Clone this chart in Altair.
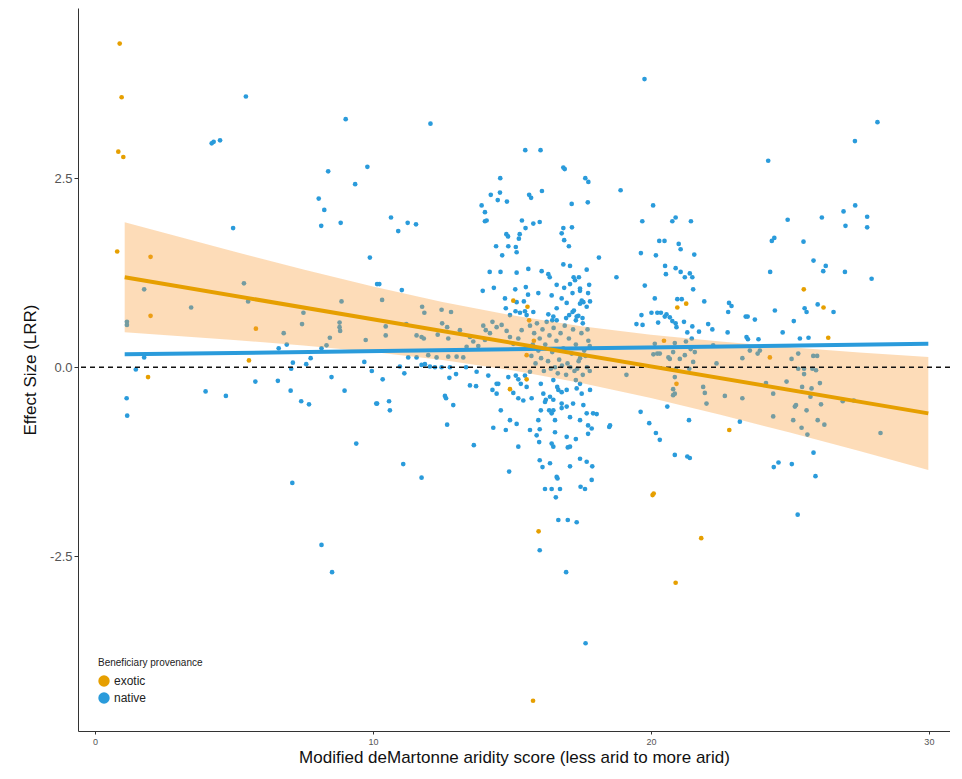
import altair as alt
import pandas as pd

# ---------------- data ----------------
native_pts = [
    (5.43,3.58),(4.2,2.96),(4.27,2.98),(4.5,3.0),(9.02,3.28),(9.8,2.65),(8.39,2.59),(9.36,2.42),(8.05,2.23),(8.25,2.08),(8.14,1.87),(8.84,1.91),(4.97,1.84),
    (19.77,3.81),(12.07,3.22),(15.48,2.87),(16.03,2.87),(16.85,2.64),(16.9,2.62),(17.64,2.50),(17.75,2.45),(14.58,2.5),(18.91,2.34),(14.24,2.28),(14.57,2.31),(14.49,2.21),(14.82,2.19),(15.62,2.28),(15.69,2.24),(16.08,2.33),(13.91,2.14),(14.03,2.05),(17.15,2.16),(17.73,2.18),(20.08,2.14),(10.65,1.98),(10.91,1.80),(11.25,1.91),(11.55,1.89),(14.03,1.93),(14.09,1.94),(15.36,1.94),(15.49,1.84),(15.77,1.90),(16.0,1.92),(19.69,1.93),(16.85,1.84),(17.16,1.85),(16.79,1.77),(16.88,1.68),(17.05,1.60),(14.8,1.76),(14.86,1.73),(15.28,1.76),(15.25,1.70),(14.43,1.60),(14.87,1.60),(15.14,1.59),(20.3,1.67),(20.49,1.67),
    (28.15,3.24),(27.34,2.99),(24.22,2.73),(27.35,2.14),(26.93,2.06),(27.78,1.99),(27.0,1.87),(27.78,1.85),(26.15,1.98),(24.92,1.95),(24.44,1.71),(24.35,1.67),(25.49,1.66),(20.89,1.98),(20.77,1.93),(21.44,1.93),(21.0,1.63),(21.07,1.56),
    (1.77,1.03),(1.15,0.60),(1.15,0.56),(5.36,1.11),(5.51,0.87),(3.46,0.79),(6.79,0.45),(6.9,0.30),(7.45,0.57),(7.5,0.72),(8.87,0.87),(8.8,0.59),(8.8,0.53),(8.82,0.48),(8.45,0.39),(8.33,0.29),(8.15,0.25),(9.74,0.36),(6.61,0.25),(9.89,1.45),(1.77,0.13),(1.47,-0.03),(1.14,-0.41),(1.16,-0.64),(3.98,-0.32),(4.71,-0.38),(5.77,-0.19),(6.58,-0.18),(7.12,0.06),(7.06,-0.02),(7.04,-0.31),(7.42,-0.45),(7.70,-0.49),(7.6,0.04),(7.76,0.12),(8.51,-0.13),(8.98,-0.31),(9.69,0.07),(9.96,-0.05),(10.12,-0.48),(9.4,-1.01),(7.1,-1.53),(10.15,1.10),
    (8.15,-2.35),(8.53,-2.71),
    (15.17,1.52),(14.65,1.48),(18.13,1.45),(19.64,1.51),(20.18,1.48),(16.85,1.36),(17.09,1.34),(14.2,1.26),(14.59,1.26),(15.17,1.25),(16.07,1.27),(16.31,1.23),(16.36,1.19),(17.22,1.19),(17.41,1.19),(17.69,1.29),(18.76,1.19),(20.51,1.34),(20.54,1.23),(10.23,1.10),(11.04,1.02),(13.95,1.01),(14.35,1.05),(15.12,1.03),(15.5,1.06),(15.58,0.96),(15.43,0.87),(15.95,0.98),(16.61,1.09),(16.43,0.95),(16.88,1.05),(17.09,1.10),(17.18,0.98),(17.45,1.04),(17.78,1.09),(17.74,0.98),(19.78,1.08),(20.14,0.91),(14.75,0.91),(15.17,0.86),(15.13,0.74),(15.47,0.74),(15.53,0.69),(16.31,0.70),(16.49,0.67),(16.61,0.62),(17.06,0.69),(17.23,0.75),(17.39,0.68),(17.54,0.65),(19.66,0.69),(19.7,0.56),(20.23,0.72),(20.5,0.67),(17.45,0.84),(17.57,0.86),(17.81,0.87),(16.79,0.91),
    (15.59,1.30),(17.27,1.15),(17.45,1.01),(17.51,0.88),(15.29,0.72),(14.93,0.69),(14.78,0.78),(15.77,0.73),(16.61,0.78),(16.97,0.85),(17.18,0.73),(17.33,0.67),(17.69,0.80),(19.48,0.57),(20.02,0.72),(20.36,0.72),(20.26,0.59),
    (10.33,0.89),(10.46,0.54),(10.46,0.42),(11.77,0.80),(11.85,0.72),(11.75,0.40),(11.83,0.38),(12.47,0.76),(12.81,0.73),(12.49,0.58),(12.67,0.53),(12.71,0.38),(12.33,0.43),(13.13,0.49),(11.2,0.57),(11.57,0.42),(11.27,0.13),(11.57,0.13),(11.99,0.16),(12.29,0.13),(12.71,0.14),(13.01,0.14),(13.25,0.13),(11.75,0.03),(11.87,0.04),(12.05,0.01),(12.23,0.0),(12.47,0.0),(12.77,0.0),(13.37,0.27),(13.49,0.40),(13.61,0.34),(13.79,0.28),(13.97,0.55),(14.06,0.49),(14.03,0.36),(14.21,0.45),(14.3,0.60),(14.45,0.53),(14.63,0.56),(14.81,0.48),(14.93,0.40),(15.05,0.31),(15.23,0.38),(15.35,0.49),
    (15.65,0.55),(15.8,0.45),(15.9,0.58),(16.0,0.38),(16.1,0.5),(16.2,0.3),(16.25,0.6),(16.35,0.42),(16.45,0.2),(16.5,0.52),(16.6,0.35),(16.7,0.1),(16.75,0.45),(16.85,0.25),(16.9,0.55),(17.0,0.05),(17.05,0.38),(17.15,0.18),(17.2,0.5),(17.3,0.3),(17.35,-0.02),(17.45,0.12),(17.5,0.45),(17.6,0.22),(17.7,0.0),(17.75,0.35),(15.7,0.15),(15.85,0.05),(16.05,0.12),(16.15,-0.05),(16.3,0.08),(16.4,-0.02),(16.55,0.0),(16.65,-0.08),(16.8,0.02),(16.95,-0.1),(17.1,0.0),(17.25,-0.05),(17.4,0.08),(17.55,-0.1),(17.65,0.15),(17.8,-0.05),(15.75,0.3),(15.95,0.22),(16.45,0.62),(16.95,0.65),(17.3,0.62),(17.55,0.58),(17.72,0.5),(17.8,0.28),
    (20.14,0.31),(20.23,0.18),(20.09,0.17),(20.63,0.13),(19.12,-0.10),(19.94,-0.74),(20.18,-0.87),(19.63,-0.59),
    (10.35,-0.16),(10.15,-0.48),(10.58,-0.45),(10.61,-0.57),(10.97,0.01),(11.13,-0.08),(12.75,-0.14),(12.99,-0.09),(13.35,0.0),(13.49,-0.24),(13.71,-0.25),(13.73,-0.06),(12.59,-0.38),(12.63,-0.41),(12.89,-0.50),(12.67,-0.76),(13.63,-1.03),(11.09,-1.28),(11.75,-1.46),(14.15,-0.11),(14.51,-0.22),(14.87,-0.13),(15.14,-0.11),(15.23,-0.16),(15.47,-0.11),(15.65,-0.06),(14.3,-0.30),(14.45,-0.35),(15.05,-0.34),(15.23,-0.41),(15.41,-0.44),(15.71,-0.41),(15.53,-0.26),(15.32,-0.22),(14.6,-0.57),(14.93,-0.70),(15.17,-0.75),(14.78,-0.83),(14.33,-0.80),(15.65,-0.83),(15.95,-0.70),(16.0,-0.82),(16.13,-0.35),(16.19,-0.46),(16.37,-0.39),(16.49,-0.57),(16.55,-0.70),(16.43,-0.61),(16.79,-0.48),(16.97,-0.52),(17.2,-0.48),(17.09,-0.66),(17.57,-0.50),(17.69,-0.61),(16.55,-0.86),(15.89,-0.90),(16.43,-1.01),(16.97,-0.92),(17.09,-1.05),(17.45,-0.70),(17.74,-0.77),(17.92,-0.61),(18.05,-0.62),(18.53,-0.77),(17.74,-0.88),(17.87,-0.81),(14.9,-1.38),(16.0,-1.23),(16.1,-1.32),(16.37,-1.27),(16.61,-1.45),(17.09,-1.31),(17.45,-1.21),(17.69,-1.25),(17.87,-1.49),(17.47,-1.58),(16.19,-1.61),(16.43,-1.61),(16.73,-1.61),
    (16.64,-1.47),(16.58,-1.72),(17.89,-1.31),(15.98,-0.99),(15.23,-1.05),(16.49,-1.05),(17.01,-1.06),(17.3,-0.95),(18.5,-0.79),(14.45,-0.22),(16.04,-0.22),(16.49,-0.17),(16.63,-0.26),(16.67,-0.30),(16.79,-0.33),(16.97,-0.30),(16.49,-0.43),(16.22,-0.43),(17.3,-0.17),(17.45,-0.22),(17.51,-0.35),(17.81,-0.30),(17.33,-0.28),(16.04,-0.57),(16.34,-0.57),(16.79,-0.54),
    (16.67,-2.02),(17.01,-2.02),(17.33,-2.05),(16.0,-2.42),(16.95,-2.71),(17.65,-3.65),(17.63,-1.61),
    (25.28,-1.95),
    (21.56,1.49),(20.89,1.31),(21.07,1.26),(21.22,1.19),(21.4,1.24),(21.49,1.19),(21.52,1.03),(25.85,1.41),(26.29,1.34),(26.2,1.27),(26.98,1.26),(27.94,1.17),(24.29,1.26),
    (20.95,0.90),(21.11,0.90),(21.92,0.87),(22.81,0.85),(22.9,0.81),(22.78,0.73),(20.56,0.70),(20.68,0.66),(20.77,0.61),(20.89,0.58),(20.92,0.53),(21.19,0.60),(21.31,0.46),(21.49,0.54),(21.47,0.38),(21.73,0.47),(22.06,0.57),(22.21,0.50),(22.76,0.46),
    (23.41,0.67),(23.48,0.67),(23.74,0.63),(24.46,0.75),(24.74,0.46),(25.14,0.61),(25.36,0.38),(25.53,0.78),(25.6,0.73),(26.0,0.83),(26.57,0.73),(25.67,0.39),(23.44,0.40),(23.49,0.37),(23.87,0.37),
    (20.86,0.32),(20.8,0.20),(21.26,0.34),(21.43,0.24),(21.58,0.20),(21.04,0.11),(20.68,0.11),(20.32,0.18),(21.22,0.16),(21.52,0.07),(22.24,0.29),
    (20.9,-0.02),(20.86,-0.13),(20.8,-0.29),(20.86,-0.35),(20.8,-0.37),(21.38,-0.02),(21.88,-0.26),(21.94,-0.34),(22.0,-0.48),(22.36,0.05),(22.66,-0.38),(23.29,-0.41),(23.29,0.12),(23.56,0.22),(23.84,0.18),(23.92,0.22),
    (24.14,-0.21),(24.4,-0.35),(24.4,-0.65),(24.88,-0.19),(25.06,0.11),(25.3,0.18),(25.18,-0.52),(25.22,-0.50),(25.12,-0.70),(25.3,-0.02),(25.51,-0.02),(25.51,-0.09),(25.44,-0.26),(25.6,-0.57),(25.78,-0.28),(25.81,-0.02),(25.84,0.15),(25.98,0.15),(25.94,-0.04),(26.08,-0.21),(26.12,-0.49),(26.0,-0.70),(26.24,-0.76),(25.42,-0.80),(25.63,-0.89),(26.9,-0.45),(27.3,-0.44),(28.26,-0.87),(25.74,-0.39),
    (20.32,-0.96),(20.59,-0.52),(21.37,-0.70),(20.86,-1.16),(21.31,-1.18),(21.4,-1.20),(23.2,-0.72),(24.42,-1.32),(24.59,-1.26),(25.07,-1.28),(25.85,-1.13),(25.92,-1.44),
]
native_x = [p[0] for p in native_pts]
native_y = [p[1] for p in native_pts]

exotic_x = [0.89, 0.96, 0.84, 1.02, 0.8, 2.0, 2.0, 5.79, 5.54, 1.91, 15.56, 15.62, 15.79, 15.53, 15.53, 14.93,
            15.05, 20.47, 15.96, 15.76, 20.06, 20.1, 21.81, 20.89, 20.95, 21.27, 25.5, 26.21, 26.38, 24.28, 20.92, 22.82]
exotic_y = [4.28, 3.57, 2.85, 2.78, 1.53, 1.46, 0.68, 0.51, 0.09, -0.13, 0.80, 0.62, 0.35, 0.16, -0.16, -0.29,
            0.88, 0.35, -2.17, -4.41, -1.69, -1.67, -2.26, -2.85, 0.79, 0.84, 1.03, 0.79, 0.39, 0.13, -0.22, -0.83]

fit_x = [1.07, 29.98]
native_fit_y = [0.17, 0.31]
exotic_fit_y = [1.19, -0.61]

band_x = [1.07, 5, 7.5, 10, 12.5, 15, 17.5, 20, 22.5, 25, 27.5, 29.98]
band_hi = [1.917, 1.529, 1.292, 1.067, 0.862, 0.686, 0.543, 0.430, 0.339, 0.263, 0.196, 0.136]
band_lo = [0.463, 0.361, 0.288, 0.201, 0.094, -0.040, -0.209, -0.408, -0.629, -0.863, -1.108, -1.358]

groups = ["exotic", "native"]
x_ticks = [0, 10, 20, 30]
y_ticks = [-2.5, 0.0, 2.5]

ORANGE = "#E69F00"
BLUE = "#2A9BDB"
BAND = "#F99F3A"

# ---------------- tables ----------------
pts = pd.DataFrame({
    "x": native_x + exotic_x,
    "y": native_y + exotic_y,
    "group": ["native"] * len(native_x) + ["exotic"] * len(exotic_x),
    "order": [0] * len(native_x) + [1] * len(exotic_x),
})
band = pd.DataFrame({"x": band_x, "lo": band_lo, "hi": band_hi})
nat_line = pd.DataFrame({"x": fit_x, "y": native_fit_y})
exo_line = pd.DataFrame({"x": fit_x, "y": exotic_fit_y})
zero = pd.DataFrame({"y": [0.0]})

xs = alt.Scale(domain=[-0.61, 30.76], nice=False, zero=False)
ys = alt.Scale(domain=[-4.81, 4.75], nice=False, zero=False)

x_axis = alt.Axis(values=x_ticks, title="Modified deMartonne aridity score (less arid to more arid)",
                  labelFontSize=9, labelColor="#555555", tickColor="#333333", tickSize=3,
                  domainColor="#333333", titleFontSize=17, titleFontWeight="normal",
                  titleColor="#111111", titlePadding=3, labelPadding=3, grid=False)
y_axis = alt.Axis(values=y_ticks, title="Effect Size (LRR)",
                  labelExpr="replace(format(datum.value, '.1f'), '\u2212', '-')",
                  labelFontSize=13, labelColor="#555555", tickColor="#333333", tickSize=4,
                  domainColor="#333333", titleFontSize=17, titleFontWeight="normal",
                  titleColor="#111111", titlePadding=10, labelPadding=2, grid=False)

points = alt.Chart(pts).mark_circle(size=22, opacity=1).encode(
    x=alt.X("x:Q", scale=xs, axis=x_axis),
    y=alt.Y("y:Q", scale=ys, axis=y_axis),
    color=alt.Color("group:N", scale=alt.Scale(domain=groups, range=[ORANGE, BLUE]),
                    legend=alt.Legend(title="Beneficiary provenance", orient="none",
                                      legendX=20, legendY=650, titleFontSize=10,
                                      titleFontWeight="normal", titleColor="#222222",
                                      labelFontSize=12, labelColor="#222222",
                                      symbolType="circle", symbolSize=130,
                                      symbolStrokeWidth=0, symbolOpacity=1,
                                      titlePadding=7, rowPadding=5)),
    order=alt.Order("order:Q"),
)

band_layer = alt.Chart(band).mark_area(color=BAND, opacity=0.36).encode(
    x=alt.X("x:Q", scale=xs), y=alt.Y("lo:Q", scale=ys), y2="hi:Q")

zero_rule = alt.Chart(zero).mark_rule(color="#111111", strokeDash=[5, 4], strokeWidth=1.3).encode(
    y=alt.Y("y:Q", scale=ys))

nat_layer = alt.Chart(nat_line).mark_line(color=BLUE, strokeWidth=4).encode(
    x=alt.X("x:Q", scale=xs), y=alt.Y("y:Q", scale=ys))
exo_layer = alt.Chart(exo_line).mark_line(color=ORANGE, strokeWidth=4).encode(
    x=alt.X("x:Q", scale=xs), y=alt.Y("y:Q", scale=ys))

chart = alt.layer(points, band_layer, zero_rule, nat_layer, exo_layer).properties(
    width=872, height=723,
    padding={"left": 70, "top": 0, "right": 0, "bottom": 40},
    autosize=alt.AutoSizeParams(type="none"),
).configure(font="Liberation Sans").configure_view(stroke=None)

chart.save("out.html", embed_options={"renderer": "svg", "actions": False})
